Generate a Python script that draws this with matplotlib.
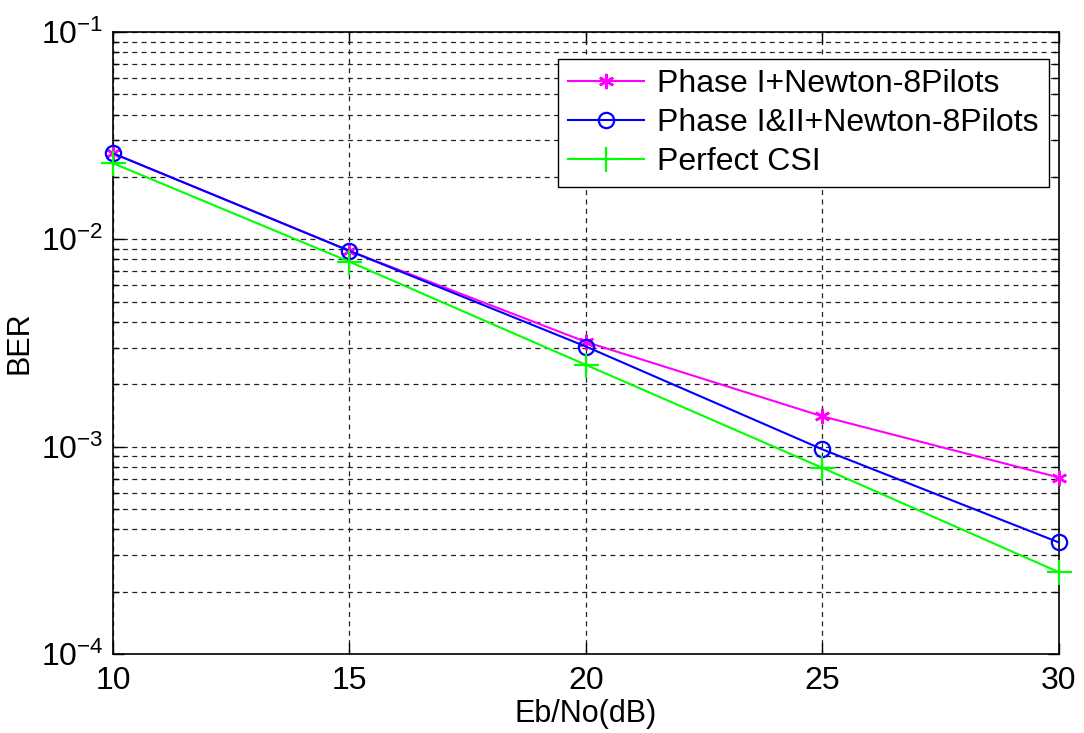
import math
import matplotlib.pyplot as plt
from matplotlib.ticker import FixedLocator, FuncFormatter, LogLocator, NullFormatter

plt.rcParams['font.family'] = ['Liberation Sans', 'DejaVu Sans']
plt.rcParams['mathtext.fontset'] = 'custom'
plt.rcParams['mathtext.rm'] = 'Liberation Sans'
plt.rcParams['mathtext.it'] = 'Liberation Sans'

# BER vs Eb/No
ebno = [10, 15, 20, 25, 30]
ber_phase1 = [0.026, 0.0088, 0.0032, 0.0014, 0.00071]
ber_phase12 = [0.026, 0.0088, 0.00304, 0.00097, 0.000345]
ber_perfect = [0.0233, 0.0078, 0.00248, 0.00079, 0.000248]

labels = ['Phase I+Newton-8Pilots', 'Phase I&II+Newton-8Pilots', 'Perfect CSI']

fig = plt.figure(figsize=(10.84, 7.33), dpi=100)
ax = fig.add_axes([0.1042, 0.1078, 0.8727, 0.8485])

ax.semilogy(ebno, ber_phase1, color='#ff00ff', lw=1.5, marker=(6, 2, 0), ms=11,
            mew=1.8, label=labels[0], clip_on=False, zorder=3)
ax.semilogy(ebno, ber_phase12, color='#0000ff', lw=1.5, marker='o', ms=11,
            mfc='none', mew=1.6, label=labels[1], clip_on=False, zorder=3)
ax.semilogy(ebno, ber_perfect, color='#00ff00', lw=1.5, marker='+', ms=18,
            mew=1.6, label=labels[2], clip_on=False, zorder=3)

ax.set_xlim(10, 30)
ax.set_ylim(1e-4, 1e-1)
ax.xaxis.set_major_locator(FixedLocator(ebno))
ax.yaxis.set_major_locator(LogLocator(base=10, numticks=10))
ax.yaxis.set_minor_locator(LogLocator(base=10, subs=range(2, 10), numticks=10))
ax.yaxis.set_minor_formatter(NullFormatter())
ax.yaxis.set_major_formatter(FuncFormatter(
    lambda v, p: r'$\mathregular{10^{%d}}$' % round(math.log10(v))))

dash = (0, (4, 3.5))
ax.grid(True, which='major', color='#222222', ls=dash, lw=0.9)
ax.grid(True, which='minor', axis='y', color='#222222', ls=dash, lw=0.9)

ax.tick_params(which='both', direction='in', top=True, right=True,
               labelsize=23, width=1)
ax.tick_params(which='major', length=8)
ax.tick_params(which='minor', length=4)
ax.tick_params(axis='x', pad=9)
ax.tick_params(axis='y', pad=7)
for s in ax.spines.values():
    s.set_linewidth(1.2)

ax.set_xlabel('Eb/No(dB)', fontsize=22, labelpad=2)
ax.set_ylabel('BER', fontsize=22, labelpad=4)

leg = ax.legend(loc='upper right', bbox_to_anchor=(0.9894, 0.9566),
                fontsize=23, fancybox=False, framealpha=1, edgecolor='black',
                handlelength=2.4, borderaxespad=0, labelspacing=0.28,
                handletextpad=0.4, borderpad=0.32)
leg.get_frame().set_linewidth(1.0)

fig.savefig('out.png', dpi=100)
